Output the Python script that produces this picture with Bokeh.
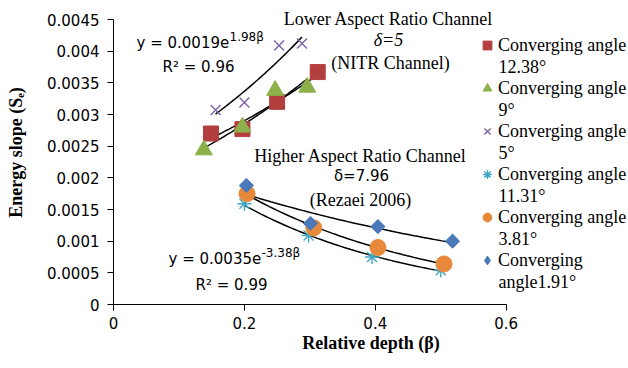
import numpy as np
from math import pi
from bokeh.plotting import figure
from bokeh.models import (Range1d, FixedTicker, CustomJSTickFormatter, Label,
                          Legend, LegendItem)
from bokeh.embed import file_html
from bokeh.resources import INLINE

# ---------------- data ----------------
beta_1238 = [0.149, 0.197, 0.250, 0.312]
se_1238 = [0.00270, 0.00277, 0.00320, 0.00367]
beta_9 = [0.138, 0.197, 0.247, 0.296]
se_9 = [0.00244, 0.00280, 0.00338, 0.00343]
beta_5 = [0.156, 0.200, 0.253, 0.288]
se_5 = [0.00307, 0.00319, 0.00409, 0.00412]
beta_1131 = [0.200, 0.298, 0.395, 0.500]
se_1131 = [0.00159, 0.00109, 0.00075, 0.00054]
beta_381 = [0.204, 0.306, 0.404, 0.505]
se_381 = [0.00175, 0.00121, 0.00090, 0.00064]
beta_191 = [0.203, 0.301, 0.404, 0.518]
se_191 = [0.00188, 0.00128, 0.00123, 0.00100]

series_labels = ["Converging angle\n12.38°", "Converging angle\n9°",
                 "Converging angle\n5°", "Converging angle\n11.31°",
                 "Converging angle\n3.81°", "Converging\nangle1.91°"]
x_ticks = [0, 0.2, 0.4, 0.6]
y_ticks = [0, 0.0005, 0.001, 0.0015, 0.002, 0.0025, 0.003, 0.0035, 0.004, 0.0045]

# ---------------- figure ----------------
W, H = 628, 368
BL, BR, BT, BB = 113, 0, 0, 64
PXX = 392.7 / 0.6          # pixels per unit of beta
PXY = 285.0 / 0.0045       # pixels per unit of Se
x_end = (W - BL - BR) / PXX
y_end = (H - BT - BB) / PXY

p = figure(width=W, height=H, output_backend="svg", toolbar_location=None,
           x_range=Range1d(0, x_end), y_range=Range1d(0, y_end),
           min_border_left=BL, min_border_right=BR, min_border_top=BT,
           min_border_bottom=BB, background_fill_color="white",
           border_fill_color="white")
p.outline_line_color = None
p.grid.visible = False

fmt = CustomJSTickFormatter(code="""
let s = tick.toFixed(4);
s = s.replace(/0+$/, '').replace(/\\.$/, '');
return s;
""")
for ax in (p.xaxis[0], p.yaxis[0]):
    ax.formatter = fmt
    ax.axis_line_color = "black"
    ax.major_tick_line_color = "black"
    ax.minor_tick_line_color = None
    ax.major_tick_in = 0
    ax.major_tick_out = 6
    ax.major_label_text_font = "DejaVu Sans"
    ax.major_label_text_font_size = "15px"
    ax.major_label_text_color = "black"
    ax.axis_label_text_font = "Liberation Serif"
    ax.axis_label_text_font_style = "bold"
    ax.axis_label_text_font_size = "18px"
    ax.axis_label_text_color = "black"
p.xaxis.ticker = FixedTicker(ticks=x_ticks)
p.yaxis.ticker = FixedTicker(ticks=y_ticks)
p.xaxis.bounds = (x_ticks[0], x_ticks[-1])
p.yaxis.bounds = (y_ticks[0], y_ticks[-1])
p.xaxis.major_label_standoff = 6
p.yaxis.major_label_standoff = 8
p.xaxis.axis_label = "Relative depth (β)"
p.yaxis.axis_label = "Energy slope (Sₑ)"
p.xaxis.axis_label_standoff = 1
p.yaxis.axis_label_standoff = 18

# ---------------- trend lines ----------------
def trend(xs, ys):
    b, a = np.polyfit(np.array(xs), np.log(np.array(ys)), 1)
    xx = np.linspace(min(xs), max(xs), 60)
    return xx, np.exp(a + b * xx)

for xs, ys in [(beta_1238, se_1238), (beta_9, se_9), (beta_5, se_5),
               (beta_1131, se_1131), (beta_381, se_381), (beta_191, se_191)]:
    tx, ty = trend(xs, ys)
    p.line(tx, ty, line_color="black", line_width=1.5)

# ---------------- markers ----------------
C_RED, C_GRN, C_PUR = "#B23F3D", "#8DB04A", "#7D63A8"
C_CYN, C_ORG, C_BLU = "#3FA8C4", "#E8883A", "#4A78B8"
r1 = p.scatter(beta_1238, se_1238, marker="square", size=15,
               fill_color=C_RED, line_color=C_RED)
r2 = p.scatter(beta_9, se_9, marker="triangle", size=17,
               fill_color=C_GRN, line_color=C_GRN)
r3 = p.scatter(beta_5, se_5, marker="x", size=14,
               line_color=C_PUR, line_width=1.4)
r4 = p.scatter(beta_1131, se_1131, marker="asterisk", size=14,
               line_color=C_CYN, line_width=1.4)
r5 = p.scatter(beta_381, se_381, marker="circle", size=16,
               fill_color=C_ORG, line_color=C_ORG)
# diamond glyph (used as the legend key; covered by the rotated square below)
r6_key = p.scatter(beta_191, se_191, marker="diamond", size=10,
                   fill_color=C_BLU, line_color=C_BLU)
r6 = p.scatter(beta_191, se_191, marker="square", size=10, angle=pi / 4,
               fill_color=C_BLU, line_color=C_BLU)

first_lines = [s.split("\n")[0] for s in series_labels]
second_lines = [s.split("\n")[1] for s in series_labels]

GW, GH, ITEM, PITCH = 22, 24, 24, 43
LEG_LEFT, LEG_TOP = 476, 33          # image pixels
legend = Legend(items=[LegendItem(label=l, renderers=[r])
                       for l, r in zip(first_lines,
                                       [r1, r2, r3, r4, r5, r6_key])],
                orientation="vertical",
                label_text_font="Liberation Serif", label_text_font_size="18px",
                label_text_color="black", label_height=ITEM,
                glyph_width=GW, glyph_height=GH, label_standoff=0,
                spacing=PITCH - ITEM, padding=0, margin=0,
                border_line_color=None, background_fill_alpha=0)
leg_h = 6 * ITEM + 5 * (PITCH - ITEM)
legend.location = (LEG_LEFT - BL, (H - BB) - (LEG_TOP + leg_h))
p.add_layout(legend)

# ---------------- annotations ----------------
def at(px, py):
    return (px - BL) / PXX, ((H - BB) - py) / PXY


def txt(s, px, py, font="Liberation Serif", size="18px", align="center",
        style="normal"):
    x, y = at(px, py)
    p.add_layout(Label(x=x, y=y, text=s, text_font=font, text_font_size=size,
                       text_align=align, text_baseline="middle",
                       text_color="black", text_font_style=style))


for i, s in enumerate(second_lines):
    txt(s, LEG_LEFT + GW, LEG_TOP + ITEM / 2 + 21 + i * PITCH, align="left")

txt("Lower Aspect Ratio Channel", 388, 18)
txt("δ=5", 388, 39, style="italic")
txt("(NITR Channel)", 390, 62)
txt("Higher Aspect Ratio Channel", 360, 155)
txt("δ=7.96", 361, 175, font="DejaVu Sans", size="15px")
txt("(Rezaei 2006)", 360, 199)
txt("y = 0.0019e", 136, 42, font="DejaVu Sans", size="15px", align="left")
txt("1.98β", 229, 36, font="DejaVu Sans", size="12px", align="left")
txt("R² = 0.96", 198, 66, font="DejaVu Sans", size="15px")
txt("y = 0.0035e", 168, 258, font="DejaVu Sans", size="15px", align="left")
txt("-3.38β", 261, 252, font="DejaVu Sans", size="12px", align="left")
txt("R² = 0.99", 231, 284, font="DejaVu Sans", size="15px")

open("out.html", "w").write(file_html(p, INLINE))
